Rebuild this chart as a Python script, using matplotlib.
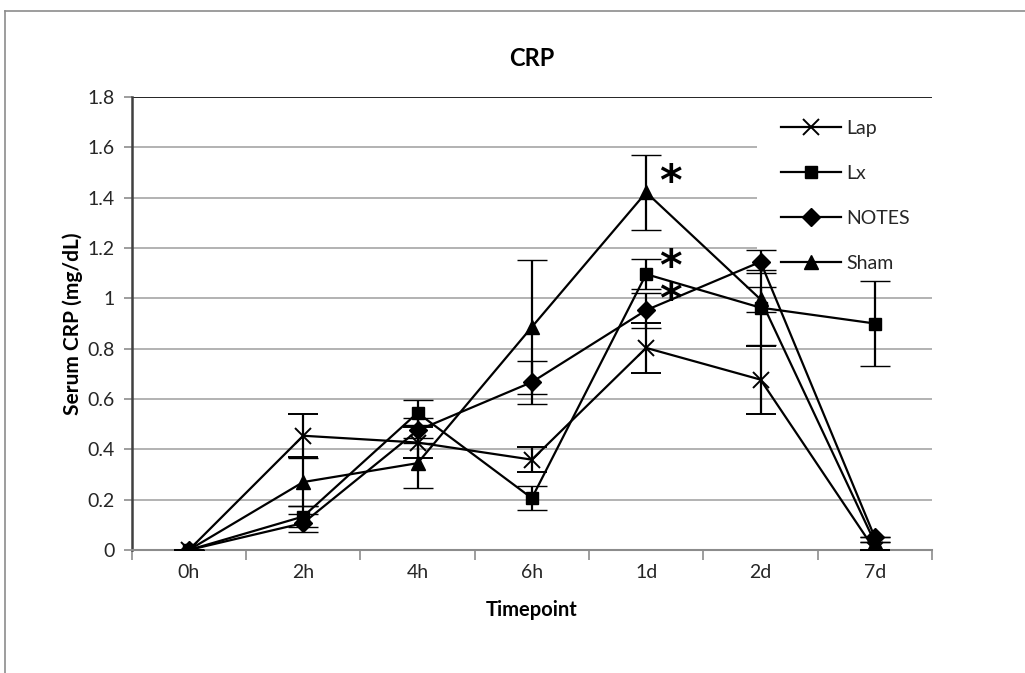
import matplotlib
matplotlib.use("Agg")
import matplotlib.pyplot as plt
from matplotlib.lines import Line2D
from matplotlib.patches import Rectangle
import numpy as np

# ---- data ----
timepoints = ["0h", "2h", "4h", "6h", "1d", "2d", "7d"]
lap = [0.0, 0.454, 0.427, 0.359, 0.803, 0.677, 0.0]
lap_err = [0.0, 0.085, 0.06, 0.05, 0.10, 0.135, 0.0]
lx = [0.0, 0.133, 0.545, 0.206, 1.096, 0.963, 0.90]
lx_err = [0.0, 0.04, 0.05, 0.047, 0.06, 0.15, 0.17]
notes = [0.0, 0.107, 0.475, 0.667, 0.953, 1.145, 0.05]
notes_err = [0.0, 0.037, 0.05, 0.085, 0.07, 0.046, 0.0]
sham = [0.0, 0.27, 0.345, 0.886, 1.421, 0.996, 0.03]
sham_err = [0.0, 0.095, 0.10, 0.267, 0.15, 0.05, 0.0]
star_top = 1.41         # baseline of the upper asterisk (Sham, 1d)
star_pair = 0.943       # baseline of the lower of the two stacked asterisks

plt.rcParams['font.family'] = ['Lato', 'DejaVu Sans']
txtc = '#262626'

fig = plt.figure(figsize=(10.25, 6.73), dpi=100)
W, H = 1025, 673
L, R, T, B = 131.7, 932, 97, 550
ax = fig.add_axes([L / W, (H - B) / H, (R - L) / W, (B - T) / H])

# outer chart border (top and left)
fig.add_artist(Line2D([5 / W, 1], [1 - 11 / H, 1 - 11 / H], color='#8c8c8c', lw=1.2, transform=fig.transFigure))
fig.add_artist(Line2D([5 / W, 5 / W], [0, 1 - 11 / H], color='#8c8c8c', lw=1.2, transform=fig.transFigure))

x = np.arange(len(timepoints))
series = [
    ("Lap", lap, lap_err, 'x', 12, 1.4),
    ("Lx", lx, lx_err, 's', 8.5, 1),
    ("NOTES", notes, notes_err, 'D', 9.5, 1),
    ("Sham", sham, sham_err, '^', 9.5, 1),
]
handles = []
for name, vals, err, mk, ms, mew in series:
    ax.errorbar(x, vals, yerr=err, color='black', lw=1.6, marker=mk, ms=ms,
                mew=mew, mfc='black', mec='black',
                ecolor='black', elinewidth=1.6, capsize=11, capthick=1.6, zorder=3)
    handles.append(Line2D([], [], color='black', lw=1.6, marker=mk, ms=ms, mew=mew,
                          mfc='black', mec='black', label=name))

ax.set_xlim(-0.5, 6.5)
ax.set_ylim(0, 1.8)
ax.set_yticks(np.arange(0, 1.81, 0.2))
ax.set_yticklabels(["0", "0.2", "0.4", "0.6", "0.8", "1", "1.2", "1.4", "1.6", "1.8"],
                   fontsize=14, color=txtc)
ax.set_xticks(x)
ax.set_xticklabels(timepoints, fontsize=14, color=txtc)
ax.set_xticks(np.arange(-0.5, 6.6, 1), minor=True)
ax.tick_params(axis='x', which='major', length=0, pad=10)
ax.tick_params(axis='x', which='minor', length=7, color='#8c8c8c', width=1.2, direction='out')
ax.tick_params(axis='y', which='major', length=6, color='#8c8c8c', width=1.2, direction='out', pad=6)
ax.grid(axis='y', color='#a6a6a6', lw=1.2, zorder=0)
ax.set_axisbelow(True)
for s in ['top', 'right']:
    ax.spines[s].set_visible(False)
ax.spines['left'].set_color('#404040')
ax.spines['left'].set_linewidth(1.8)
ax.spines['bottom'].set_color('#8c8c8c')
ax.spines['bottom'].set_linewidth(1.5)
ax.axhline(1.8, color='#262626', lw=1.4, zorder=1)

ax.text(4.21, star_top, "*", fontsize=31, fontweight='bold', ha='center', va='baseline',
        color='black', family='DejaVu Sans')
ax.text(4.21, star_pair, "*\n*", fontsize=31, fontweight='bold', ha='center', va='baseline',
        color='black', family='DejaVu Sans', linespacing=0.72, multialignment='center')

ax.set_title("CRP", fontsize=17, fontweight='bold', color='black', pad=22)
ax.set_xlabel("Timepoint", fontsize=14.5, fontweight='bold', color='black', labelpad=14)
ax.set_ylabel("Serum CRP (mg/dL)", fontsize=15, fontweight='bold', color='black', labelpad=3)

# white legend background (above gridlines, below data lines)
bg = Rectangle((757 / W, 1 - 285 / H), (1000 - 757) / W, (285 - 104) / H,
               transform=fig.transFigure, facecolor='white', edgecolor='none',
               zorder=1.2, clip_on=False)
ax.add_patch(bg)
leg = ax.legend(handles=handles, loc='upper left', bbox_to_anchor=(771 / W, 1 - 110 / H),
                bbox_transform=fig.transFigure, frameon=False, fontsize=14, handlelength=3.1,
                labelspacing=1.45, handletextpad=0.25, borderpad=0.5, borderaxespad=0)
for t in leg.get_texts():
    t.set_color(txtc)

fig.savefig("out.png", dpi=100)
